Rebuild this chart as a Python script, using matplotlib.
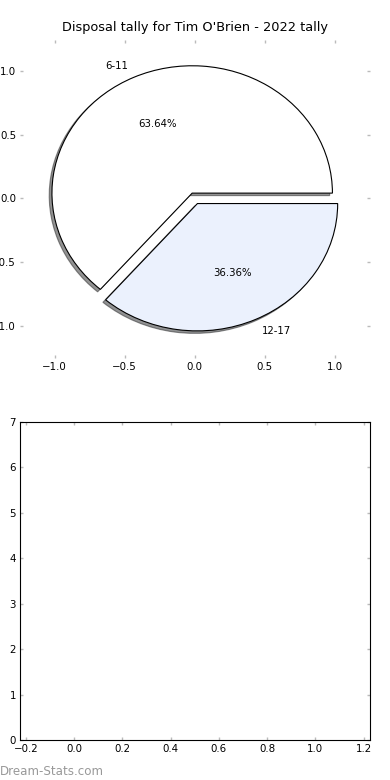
import matplotlib
matplotlib.use('Agg')
from matplotlib import pyplot as plt

title = "Disposal tally for Tim O'Brien - 2022 tally"
labels = ['6-11', '12-17']
sizes = [63.64, 36.36]
colors = ['#ffffff', '#ebf1fd']
explode = [0.045, 0.045]

pie_ticks = [-1.0, -0.5, 0.0, 0.5, 1.0]
empty_xlim = (-0.227, 1.227)
empty_ylim = (0, 7)

plt.rcParams['font.family'] = ['DejaVu Sans']
plt.rcParams['xtick.direction'] = 'in'
plt.rcParams['ytick.direction'] = 'in'
plt.rcParams['xtick.top'] = True
plt.rcParams['ytick.right'] = True

fig, (ax1, ax2) = plt.subplots(2, 1, figsize=(3.9, 7.8), dpi=100)
plt.subplots_adjust(left=0.05, right=0.949, bottom=0.051, top=0.949, hspace=0.2)

ax1.pie(sizes, labels=labels, colors=colors, explode=explode,
        autopct='%1.2f%%', frame=True,
        shadow={'ox': -0.014, 'oy': -0.014, 'shade': 0.85},
        wedgeprops={'edgecolor': 'black', 'linewidth': 0.8},
        textprops={'fontsize': 7.3})
ax1.set_aspect('auto')
ax1.set_xlim(-1.25, 1.25)
ax1.set_ylim(-1.255, 1.245)
ax1.set_xticks(pie_ticks)
ax1.set_yticks(pie_ticks)
ax1.set_frame_on(False)
ax1.set_title(title, fontsize=9.3, pad=6)

ax2.set_xlim(*empty_xlim)
ax2.set_ylim(*empty_ylim)
ax2.set_xticks([-0.2, 0.0, 0.2, 0.4, 0.6, 0.8, 1.0, 1.2])

for ax in (ax1, ax2):
    ax.tick_params(which='both', length=2.5, width=1, color='#bbbbbb',
                   labelsize=7.4, pad=2.5)

fig.text(0.0, 0.003, 'Dream-Stats.com', fontsize=8.6, color='#999999',
         ha='left', va='bottom')

plt.savefig('out.png')
